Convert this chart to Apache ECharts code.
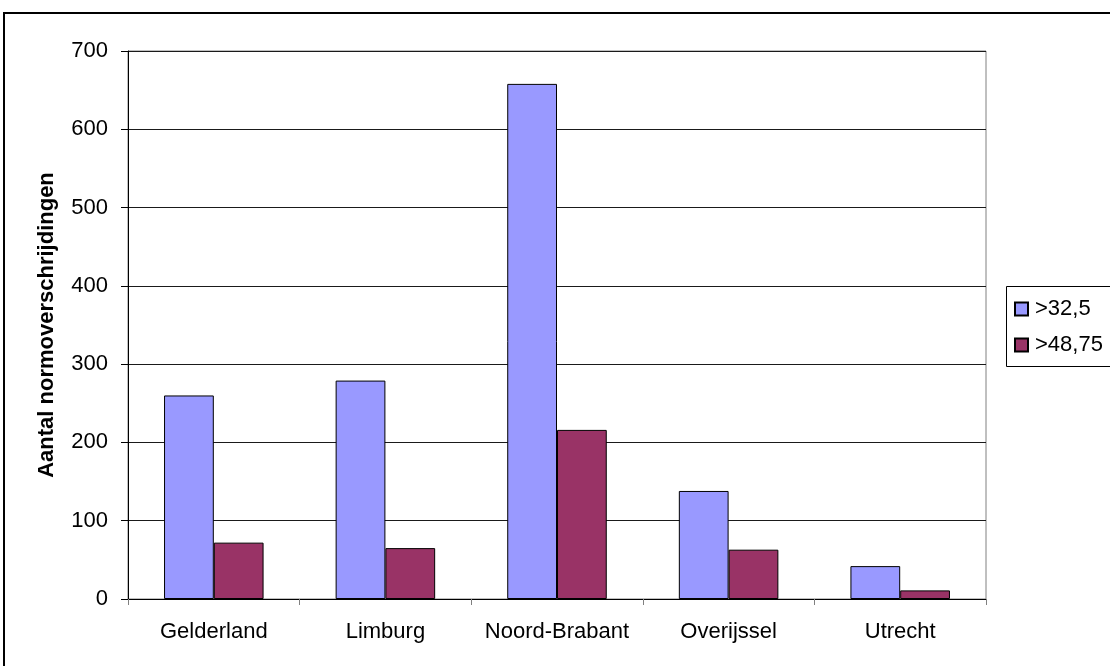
<!DOCTYPE html>
<html>
<head>
<meta charset="utf-8">
<script src="https://cdn.jsdelivr.net/npm/echarts@6/dist/echarts.min.js"></script>
<style>
  html, body { margin: 0; padding: 0; background: #fff; }
  #chart { width: 1110px; height: 666px; }
</style>
</head>
<body>
<div id="chart"></div>
<script>
// Provinces on the category axis
const provinces = ['Gelderland', 'Limburg', 'Noord-Brabant', 'Overijssel', 'Utrecht'];
// Number of exceedances per threshold
const over32_5 = [260, 279, 658, 138, 42];
const over48_75 = [72, 65, 216, 63, 11];
const seriesNames = ['>32,5', '>48,75'];
const yTitle = 'Aantal normoverschrijdingen';

const font = '"Liberation Sans", Arial, sans-serif';

const chart = echarts.init(document.getElementById('chart'), null, { renderer: 'canvas' });

chart.setOption({
  backgroundColor: '#ffffff',
  animation: false,
  textStyle: { fontFamily: font },
  grid: {
    left: 128, right: 124, top: 51, bottom: 67,
    show: true, borderColor: '#808080', borderWidth: 1, backgroundColor: 'transparent'
  },
  legend: {
    orient: 'vertical',
    left: 1006, top: 286,
    padding: [12, 4, 12, 8],
    itemGap: 14,
    itemWidth: 13, itemHeight: 13,
    icon: 'rect',
    borderWidth: 0,
    textStyle: { fontFamily: font, fontSize: 22, color: '#000', padding: [0, 0, 0, 2] },
    data: seriesNames
  },
  xAxis: {
    type: 'category',
    data: provinces,
    axisLine: { lineStyle: { color: '#000', width: 1 } },
    axisTick: { show: true, alignWithLabel: false, length: 6, lineStyle: { color: '#808080' } },
    axisLabel: { fontFamily: font, fontSize: 22, color: '#000', margin: 22, interval: 0 }
  },
  yAxis: {
    type: 'value',
    min: 0, max: 700, interval: 100,
    name: yTitle,
    nameLocation: 'middle',
    nameGap: 70,
    nameRotate: 90,
    nameTextStyle: { fontFamily: font, fontSize: 22, fontWeight: 'bold', color: '#000' },
    axisLine: { show: true, lineStyle: { color: '#000', width: 1 } },
    axisTick: { show: true, length: 7, lineStyle: { color: '#000' } },
    axisLabel: { fontFamily: font, fontSize: 22, color: '#000', margin: 20 },
    splitLine: { show: true, lineStyle: { color: '#1a1a1a', width: 1 } }
  },
  graphic: [
    // outer chart frame
    {
      type: 'rect', silent: true, z: 100,
      shape: { x: 4, y: 13, width: 1200, height: 800 },
      style: { fill: 'none', stroke: '#000', lineWidth: 2 }
    },
    // legend frame, running past the right edge
    {
      type: 'rect', silent: true, z: 100,
      shape: { x: 1006.5, y: 286.5, width: 200, height: 80 },
      style: { fill: 'none', stroke: '#000', lineWidth: 1 }
    }
  ],
  series: [
    {
      name: seriesNames[0], type: 'bar', data: over32_5,
      barGap: '0%', barCategoryGap: '42%',
      itemStyle: { color: '#9999ff', borderColor: '#000', borderWidth: 1 }
    },
    {
      name: seriesNames[1], type: 'bar', data: over48_75,
      barGap: '0%', barCategoryGap: '42%',
      itemStyle: { color: '#993366', borderColor: '#000', borderWidth: 1 }
    }
  ]
});
</script>
</body>
</html>
